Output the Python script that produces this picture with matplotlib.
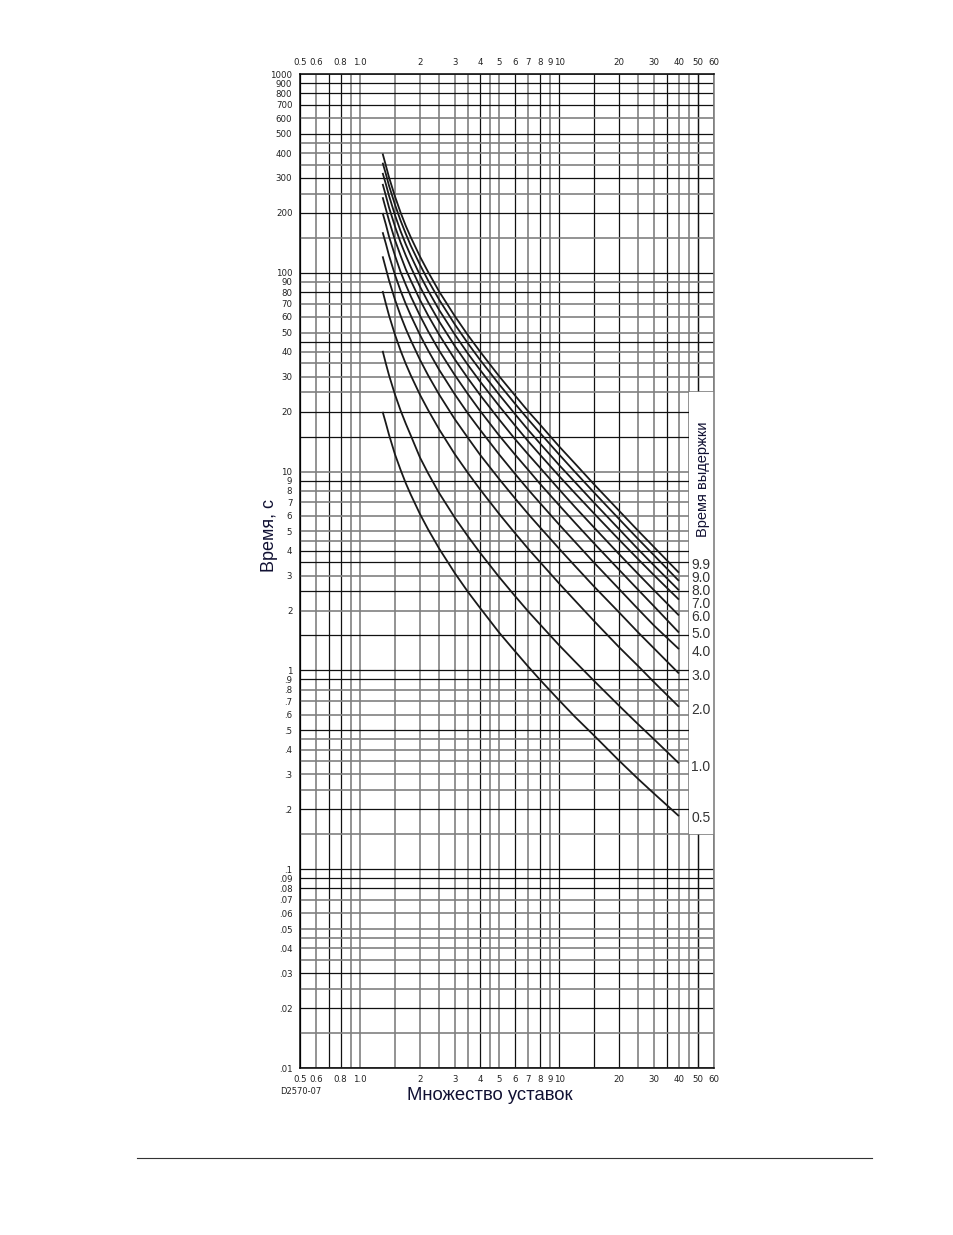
import numpy as np
import matplotlib.pyplot as plt
from matplotlib.patches import Rectangle

# кратность уставки (ось X), общая для всех кривых
mult = [1.3, 1.35, 1.4, 1.5, 1.6, 1.7, 1.8, 2.0, 2.2, 2.5, 3, 3.5, 4, 5, 6, 7, 8, 10, 12, 15, 20, 25, 30, 40]

# время срабатывания, с для каждой уставки времени выдержки
t_05 = [20, 17.5, 15.3, 12.2, 10.2, 8.73, 7.66, 6.13, 5.12, 4.1, 3.08, 2.47, 2.07, 1.55, 1.25, 1.045,
        0.9, 0.708, 0.585, 0.47, 0.352, 0.284, 0.24, 0.185]
t_10 = [40.5, 34.9, 30.5, 24.4, 20.3, 17.4, 15.2, 11.8, 9.8, 7.8, 5.85, 4.7, 3.92, 2.95, 2.37, 1.98,
        1.71, 1.34, 1.11, 0.885, 0.665, 0.535, 0.45, 0.341]
t_20 = [81, 69.8, 61, 48.8, 40.6, 34.8, 30.5, 24.4, 20.4, 16.3, 12.2, 9.79, 8.17, 6.13, 4.91, 4.09,
        3.52, 2.74, 2.25, 1.77, 1.31, 1.05, 0.872, 0.656]
t_30 = [121, 105, 91.5, 73.2, 60.9, 52.2, 45.8, 36.6, 30.5, 24.4, 18.3, 14.7, 12.2, 9.18, 7.35, 6.12,
        5.26, 4.1, 3.36, 2.64, 1.96, 1.55, 1.29, 0.965]
t_40 = [160, 140, 122, 97.6, 81.2, 69.6, 61, 48.8, 40.7, 32.5, 24.4, 19.5, 16.3, 12.2, 9.76, 8.12,
        6.97, 5.42, 4.44, 3.48, 2.57, 2.03, 1.68, 1.28]
t_50 = [200, 175, 152, 122, 101, 87, 76.2, 61, 50.8, 40.6, 30.5, 24.4, 20.3, 15.2, 12.2, 10.2,
        8.71, 6.78, 5.54, 4.35, 3.21, 2.54, 2.1, 1.55]
t_60 = [240, 209, 183, 146, 122, 104, 91.5, 73.2, 61, 48.8, 36.6, 29.3, 24.4, 18.3, 14.6, 12.2,
        10.5, 8.14, 6.65, 5.23, 3.85, 3.05, 2.53, 1.89]
t_70 = [280, 244, 213, 171, 142, 122, 107, 85.4, 71.2, 56.9, 42.7, 34.2, 28.5, 21.4, 17.1, 14.2,
        12.2, 9.5, 7.8, 6.15, 4.55, 3.62, 3.01, 2.27]
t_80 = [318, 279, 244, 195, 162, 139, 122, 97.6, 81.4, 65, 48.8, 39, 32.6, 24.4, 19.5, 16.2,
        13.9, 10.8, 8.87, 6.97, 5.14, 4.06, 3.37, 2.53]
t_90 = [358, 314, 274, 220, 183, 157, 137, 110, 91.5, 73.2, 54.9, 43.9, 36.6, 27.5, 22, 18.3,
        15.7, 12.2, 9.98, 7.84, 5.78, 4.57, 3.79, 2.82]
t_99 = [398, 346, 302, 242, 201, 172, 151, 121, 101, 80.5, 60.4, 48.3, 40.3, 30.2, 24.2, 20.1,
        17.3, 13.4, 11.0, 8.62, 6.36, 5.03, 4.17, 3.1]

curves = [t_05, t_10, t_20, t_30, t_40, t_50, t_60, t_70, t_80, t_90, t_99]
dial_labels = ['0.5', '1.0', '2.0', '3.0', '4.0', '5.0', '6.0', '7.0', '8.0', '9.0', '9.9']

# подписи осей
x_ticks = [0.5, 0.6, 0.8, 1.0, 2, 3, 4, 5, 6, 7, 8, 9, 10, 20, 30, 40, 50, 60]
x_ticklabels = ['0.5', '0.6', '0.8', '1.0', '2', '3', '4', '5', '6', '7', '8', '9', '10',
                '20', '30', '40', '50', '60']
y_ticks = [1000, 900, 800, 700, 600, 500, 400, 300, 200,
           100, 90, 80, 70, 60, 50, 40, 30, 20,
           10, 9, 8, 7, 6, 5, 4, 3, 2,
           1, .9, .8, .7, .6, .5, .4, .3, .2,
           .1, .09, .08, .07, .06, .05, .04, .03, .02, .01]
y_ticklabels = ['1000', '900', '800', '700', '600', '500', '400', '300', '200',
                '100', '90', '80', '70', '60', '50', '40', '30', '20',
                '10', '9', '8', '7', '6', '5', '4', '3', '2',
                '1', '.9', '.8', '.7', '.6', '.5', '.4', '.3', '.2',
                '.1', '.09', '.08', '.07', '.06', '.05', '.04', '.03', '.02', '.01']

# сетка
steps = [1, 1.5, 2, 2.5, 3, 3.5, 4, 4.5, 5, 6, 7, 8, 9]
x_grid = [0.5, 0.6, 0.7, 0.8, 0.9] + [s * 10 ** d for d in (0, 1) for s in steps] + [50, 60]
y_grid = [s * 10.0 ** d for d in range(-2, 3) for s in steps] + [1000]
x_dark = [0.5, 0.7, 0.8, 4, 6, 8, 10, 15, 20, 35, 50]
y_dark = [900, 800, 700, 500, 300, 200, 100, 80, 45, 20, 15, 9, 4, 3.5, 2.5, 1.5, 1,
          0.9, 0.5, 0.2, 0.1, 0.09, 0.08, 0.03, 0.02]

# положение подписей уставок у правого края
label_y = [0.181, 0.327, 0.632, 0.937, 1.24, 1.52, 1.86, 2.16, 2.51, 2.92, 3.39]

W, H = 954, 1235
fig = plt.figure(figsize=(W / 100, H / 100), dpi=100)
ax = fig.add_axes([300 / W, 1 - 1068 / H, 414 / W, 994 / H])
ax.set_xscale('log')
ax.set_yscale('log')
ax.set_xlim(0.5, 60)
ax.set_ylim(0.01, 1000)

for xv in x_grid:
    dark = any(abs(xv - d) < 1e-9 for d in x_dark)
    ax.axvline(xv, color='#111111' if dark else '#808080', lw=0.9 if dark else 1.2, zorder=1)
for yv in y_grid:
    dark = any(abs(yv - d) / d < 1e-6 for d in y_dark)
    ax.axhline(yv, color='#111111' if dark else '#808080', lw=0.9 if dark else 1.2, zorder=1)

for t in curves:
    ax.plot(mult, t, color='#1a1a1a', lw=1.3, zorder=3, solid_capstyle='butt',
            solid_joinstyle='round')

# белое поле под подписями уставок
ax.add_patch(Rectangle((45, 0.15), 15, 24.85, facecolor='white', edgecolor='none', zorder=2))
for lab, yv in zip(dial_labels, label_y):
    ax.text(46.2, yv, lab, fontsize=10, color='#333333', family='Liberation Sans',
            va='center', ha='left', zorder=4)
ax.text(53, 9.1, 'Время выдержки', rotation=90, fontsize=10.5, color='#111133',
        family='Liberation Sans', ha='center', va='center', zorder=4)

ax.set_xticks(x_ticks)
ax.set_xticklabels(x_ticklabels)
ax.set_xticks([], minor=True)
ax.set_yticks(y_ticks)
ax.set_yticklabels(y_ticklabels)
ax.set_yticks([], minor=True)
ax.tick_params(axis='x', which='both', top=True, labeltop=True, length=0, pad=5,
               labelsize=6.2, labelcolor='#222222')
ax.tick_params(axis='y', which='both', length=0, pad=5.5, labelsize=6.2, labelcolor='#222222')
for lab in ax.get_xticklabels() + ax.get_yticklabels():
    lab.set_family('DejaVu Sans')

for side in ['left', 'top', 'bottom']:
    ax.spines[side].set_color('black')
    ax.spines[side].set_linewidth(1.1)
ax.spines['right'].set_color('#808080')
ax.spines['right'].set_linewidth(1.2)

fig.text(270 / W, 1 - 535 / H, 'Время, с', rotation=90, fontsize=13, color='#111133',
         family='Liberation Sans', ha='center', va='center')
fig.text(490 / W, 1 - 1095 / H, 'Множество уставок', fontsize=13.3, color='#111133',
         family='Liberation Sans', ha='center', va='center')
fig.text(280 / W, 1 - 1091 / H, 'D2570-07', fontsize=6, color='#222222', ha='left', va='center')

fig.add_artist(plt.Line2D([137 / W, 872 / W], [1 - 1158 / H] * 2, color='#333333', lw=0.8))

fig.savefig('out.png', dpi=100, facecolor='white')
